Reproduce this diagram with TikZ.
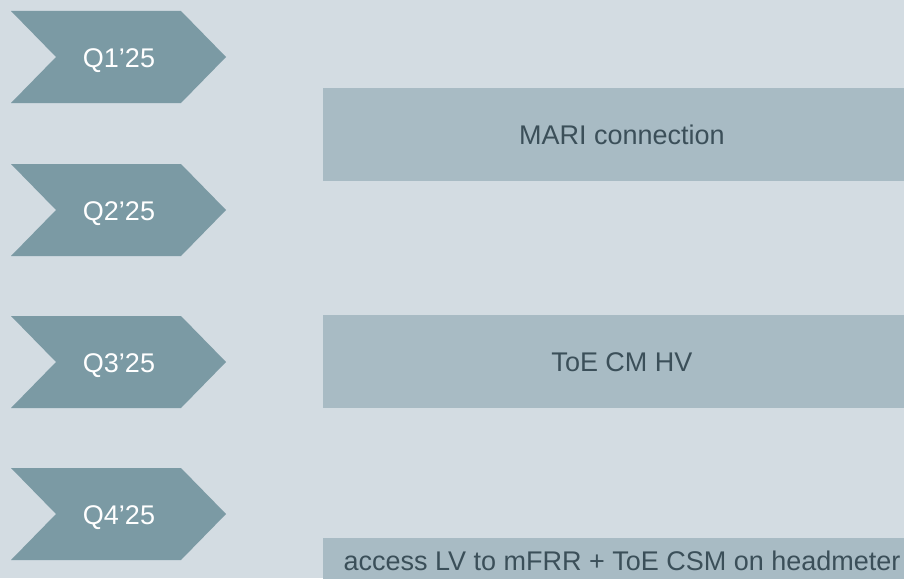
\documentclass[tikz,border=0pt]{standalone}
\usepackage{fontspec}
\setmainfont{Liberation Sans}

\definecolor{backgr}{HTML}{D3DCE2}
\definecolor{chevron}{HTML}{7B9AA4}
\definecolor{barfill}{HTML}{A8BBC4}
\definecolor{bartext}{HTML}{3B4F59}

\begin{document}
\begin{tikzpicture}[x=1pt,y=-1pt,
    qlabel/.style={text=white,anchor=base,inner sep=0pt,font=\fontsize{27}{31}\selectfont},
    barlabel/.style={text=bartext,anchor=base,inner sep=0pt,font=\fontsize{27}{31}\selectfont}]
        \useasboundingbox (0,0) rectangle (904,578);
        \clip (0,0) rectangle (904,578);
        \fill[backgr] (0,0) rectangle (904,578);

        % quarter arrows
        \foreach \c/\q in {57/1,210/2,362/3,514/4} {
            \fill[chevron] (11,\c-46) -- (181,\c-46) -- (226,\c) -- (181,\c+46)
                -- (11,\c+46) -- (56,\c) -- cycle;
            \node[qlabel] (q\q) at (119,\c+10) {Q\q’25};
        }

        % milestone bars
        \fill[barfill] (323,88) rectangle (925,181);
        \fill[barfill] (323,315) rectangle (925,408);
        \fill[barfill] (323,538) rectangle (925,631);

        \node[barlabel] (mari) at (622,144) {MARI connection};
        \node[barlabel] (toehv) at (622,371) {ToE CM HV};
        \node[barlabel] (lvfrr) at (622,570) {access LV to mFRR + ToE CSM on headmeter};
      \end{tikzpicture}
\end{document}
